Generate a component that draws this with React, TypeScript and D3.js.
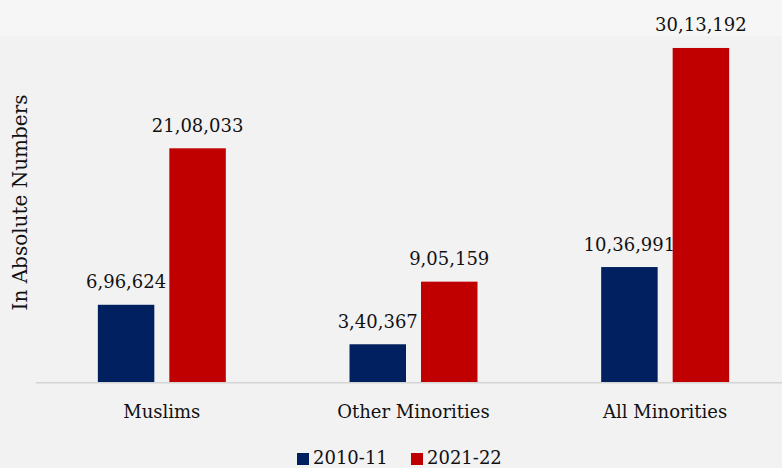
import React from "react";
import * as d3 from "d3";

const categories = ["Muslims", "Other Minorities", "All Minorities"];
const seriesNames = ["2010-11", "2021-22"];
const values2010 = [696624, 340367, 1036991];
const values2021 = [2108033, 905159, 3013192];
const seriesColors = ["#002060", "#C00000"];
const yAxisTitle = "In Absolute Numbers";

const W = 782;
const H = 468;
const FONT = "'DejaVu Serif', serif";

function formatIndian(n: number): string {
  const s = String(Math.round(n));
  if (s.length <= 3) return s;
  const last3 = s.slice(-3);
  let rest = s.slice(0, -3);
  const parts: string[] = [];
  while (rest.length > 2) {
    parts.unshift(rest.slice(-2));
    rest = rest.slice(0, -2);
  }
  if (rest.length) parts.unshift(rest);
  return parts.join(",") + "," + last3;
}

export default function App() {
  const x0 = d3.scaleBand<string>().domain(categories).range([36, 791]).padding(0);
  const x1 = d3
    .scaleBand<string>()
    .domain(seriesNames)
    .range([0, x0.bandwidth()])
    .paddingInner(0.21)
    .paddingOuter(0.865);
  const y = d3.scaleLinear().domain([0, 3500000]).range([382, -6]);
  const series = [values2010, values2021];

  return (
    <svg
      width={W}
      height={H}
      style={{ position: "absolute", left: 0, top: 0, display: "block" }}
      fontFamily={FONT}
    >
      <rect x={0} y={0} width={W} height={H} fill="#f2f2f3" />
      <rect x={0} y={0} width={W} height={36} fill="#f6f6f6" />
      {categories.map((c, ci) => (
        <g key={c} transform={`translate(${x0(c)},0)`}>
          {seriesNames.map((s, si) => {
            const v = series[si][ci];
            const bx = x1(s)!;
            const bw = x1.bandwidth();
            return (
              <g key={s}>
                <rect x={bx} y={y(v)} width={bw} height={y(0) - y(v)} fill={seriesColors[si]} />
                <text
                  x={bx + bw / 2}
                  y={y(v) - 16.5}
                  textAnchor="middle"
                  fontSize={18}
                  fill="#111"
                >
                  {formatIndian(v)}
                </text>
              </g>
            );
          })}
          <text x={x0.bandwidth() / 2} y={418} textAnchor="middle" fontSize={18} fill="#111">
            {c}
          </text>
        </g>
      ))}
      <line x1={36} x2={W} y1={y(0) + 0.75} y2={y(0) + 0.75} stroke="#d4d4d4" strokeWidth={1.5} />
      <text
        transform={`translate(27,${(93 + 312) / 2}) rotate(-90)`}
        textAnchor="middle"
        fontSize={20}
        fill="#111"
      >
        {yAxisTitle}
      </text>
      {seriesNames.map((s, i) => (
        <g key={s} transform={`translate(${297 + i * 114},0)`}>
          <rect x={0} y={453} width={12} height={12} fill={seriesColors[i]} />
          <text x={16} y={463.5} fontSize={18} fill="#111">
            {s}
          </text>
        </g>
      ))}
    </svg>
  );
}
